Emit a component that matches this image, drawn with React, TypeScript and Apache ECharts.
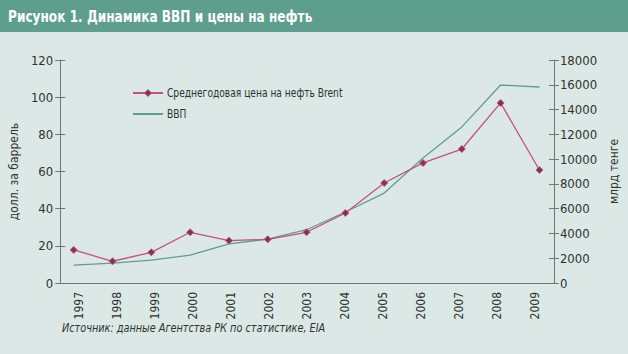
import React, { useEffect, useRef } from "react";
import * as echarts from "echarts";

const years = ["1997", "1998", "1999", "2000", "2001", "2002", "2003", "2004", "2005", "2006", "2007", "2008", "2009"];
const yearNums = [1997, 1998, 1999, 2000, 2001, 2002, 2003, 2004, 2005, 2006, 2007, 2008, 2009];
const oilPrice = [17.8, 11.7, 16.5, 27.3, 22.8, 23.5, 27.3, 37.7, 53.8, 64.6, 72.1, 96.9, 60.8];
const gdp = [1450, 1600, 1850, 2250, 3150, 3550, 4300, 5730, 7260, 10090, 12600, 15980, 15820];

const titleText = "Рисунок 1. Динамика ВВП и цены на нефть";
const sourceText = "Источник: данные Агентства РК по статистике, EIA";
const oilName = "Среднегодовая цена на нефть Brent";
const gdpName = "ВВП";
const leftName = "долл. за баррель";
const rightName = "млрд тенге";

const FONT = "'Liberation Sans Narrow', 'DejaVu Sans Condensed', 'Roboto', sans-serif";
const AXIS_COLOR = "#6f7775";
const TEXT_COLOR = "#2e3331";
const OIL_COLOR = "#c4507f";
const OIL_MARK = "#7e3557";
const GDP_COLOR = "#5f9d90";

export default function App() {
  const ref = useRef<HTMLDivElement>(null);
  useEffect(() => {
    if (!ref.current) return;
    const chart = echarts.init(ref.current, undefined, { renderer: "svg" });
    const lineStyle = { color: AXIS_COLOR, width: 1 };
    const yLeftBase = { type: "value", min: 0, max: 120, interval: 20, position: "left" };
    const yRightBase = { type: "value", min: 0, max: 18000, interval: 2000, position: "right" };
    chart.setOption({
      animation: false,
      backgroundColor: "#dce8e5",
      textStyle: { fontFamily: FONT },
      graphic: [
        { type: "rect", x: 0, y: 0, shape: { width: 628, height: 32 }, style: { fill: "#5e9e8d" } },
        {
          type: "text", x: 8, y: 17, scaleX: 0.9,
          style: { text: titleText, fill: "#ffffff", font: `bold 15px ${FONT}`, verticalAlign: "middle" },
        },
        {
          type: "text", x: 62, y: 328, scaleX: 0.83,
          style: { text: sourceText, fill: TEXT_COLOR, font: `italic 13px ${FONT}`, verticalAlign: "middle" },
        },
        // legend
        { type: "line", shape: { x1: 133, y1: 93, x2: 163, y2: 93 }, style: { stroke: OIL_COLOR, lineWidth: 2 } },
        {
          type: "polygon",
          shape: { points: [[148, 89.5], [151.5, 93], [148, 96.5], [144.5, 93]] },
          style: { fill: OIL_MARK, stroke: OIL_COLOR, lineWidth: 1 },
        },
        {
          type: "text", x: 167, y: 93, scaleX: 0.78,
          style: { text: oilName, fill: TEXT_COLOR, font: `13px ${FONT}`, verticalAlign: "middle" },
        },
        { type: "line", shape: { x1: 133, y1: 114, x2: 163, y2: 114 }, style: { stroke: GDP_COLOR, lineWidth: 2 } },
        {
          type: "text", x: 167, y: 114, scaleX: 0.78,
          style: { text: gdpName, fill: TEXT_COLOR, font: `13px ${FONT}`, verticalAlign: "middle" },
        },
      ],
      grid: { left: 52, right: 64, top: 60, bottom: 71 },
      xAxis: [
        {
          type: "category",
          data: years,
          boundaryGap: true,
          axisLine: { lineStyle },
          axisTick: { alignWithLabel: true, length: 5, lineStyle },
          axisLabel: { rotate: 90, color: TEXT_COLOR, fontSize: 12, margin: 9 },
        },
        {
          type: "value",
          min: 1996.652,
          max: 2009.373,
          show: false,
        },
        {
          type: "category",
          data: years,
          boundaryGap: true,
          axisLine: { show: false },
          axisTick: { alignWithLabel: true, inside: true, length: 5, lineStyle },
          axisLabel: { show: false },
        },
      ],
      yAxis: [
        {
          ...yLeftBase,
          name: leftName,
          nameLocation: "middle",
          nameRotate: 90,
          nameGap: 35,
          nameTextStyle: { color: TEXT_COLOR, fontSize: 12 },
          axisLine: { show: true, lineStyle },
          axisTick: { show: true, length: 5, lineStyle },
          axisLabel: { color: TEXT_COLOR, fontSize: 13, margin: 7 },
          splitLine: { show: false },
        },
        {
          ...yRightBase,
          name: rightName,
          nameLocation: "middle",
          nameRotate: 90,
          nameGap: 42,
          nameTextStyle: { color: TEXT_COLOR, fontSize: 12 },
          axisLine: { show: true, lineStyle },
          axisTick: { show: true, length: 5, lineStyle },
          axisLabel: { color: TEXT_COLOR, fontSize: 13, margin: 6, formatter: (v: number) => String(v) },
          splitLine: { show: false },
        },
        {
          ...yLeftBase,
          axisLine: { show: false },
          axisTick: { show: true, inside: true, length: 5, lineStyle },
          axisLabel: { show: false },
          splitLine: { show: false },
        },
        {
          ...yRightBase,
          axisLine: { show: false },
          axisTick: { show: true, inside: true, length: 5, lineStyle },
          axisLabel: { show: false },
          splitLine: { show: false },
        },
      ],
      series: [
        {
          name: oilName,
          type: "line",
          xAxisIndex: 1,
          yAxisIndex: 0,
          data: yearNums.map((y, i) => [y, oilPrice[i]]),
          symbol: "diamond",
          symbolSize: 7,
          lineStyle: { color: OIL_COLOR, width: 1.3 },
          itemStyle: { color: OIL_MARK, borderColor: OIL_COLOR, borderWidth: 1 },
          z: 3,
        },
        {
          name: gdpName,
          type: "line",
          xAxisIndex: 1,
          yAxisIndex: 1,
          data: yearNums.map((y, i) => [y, gdp[i]]),
          symbol: "none",
          lineStyle: { color: GDP_COLOR, width: 1.3 },
          z: 2,
        },
      ],
    });
    return () => chart.dispose();
  }, []);
  return <div ref={ref} style={{ position: "fixed", left: 0, top: 0, width: 628, height: 354 }} />;
}
